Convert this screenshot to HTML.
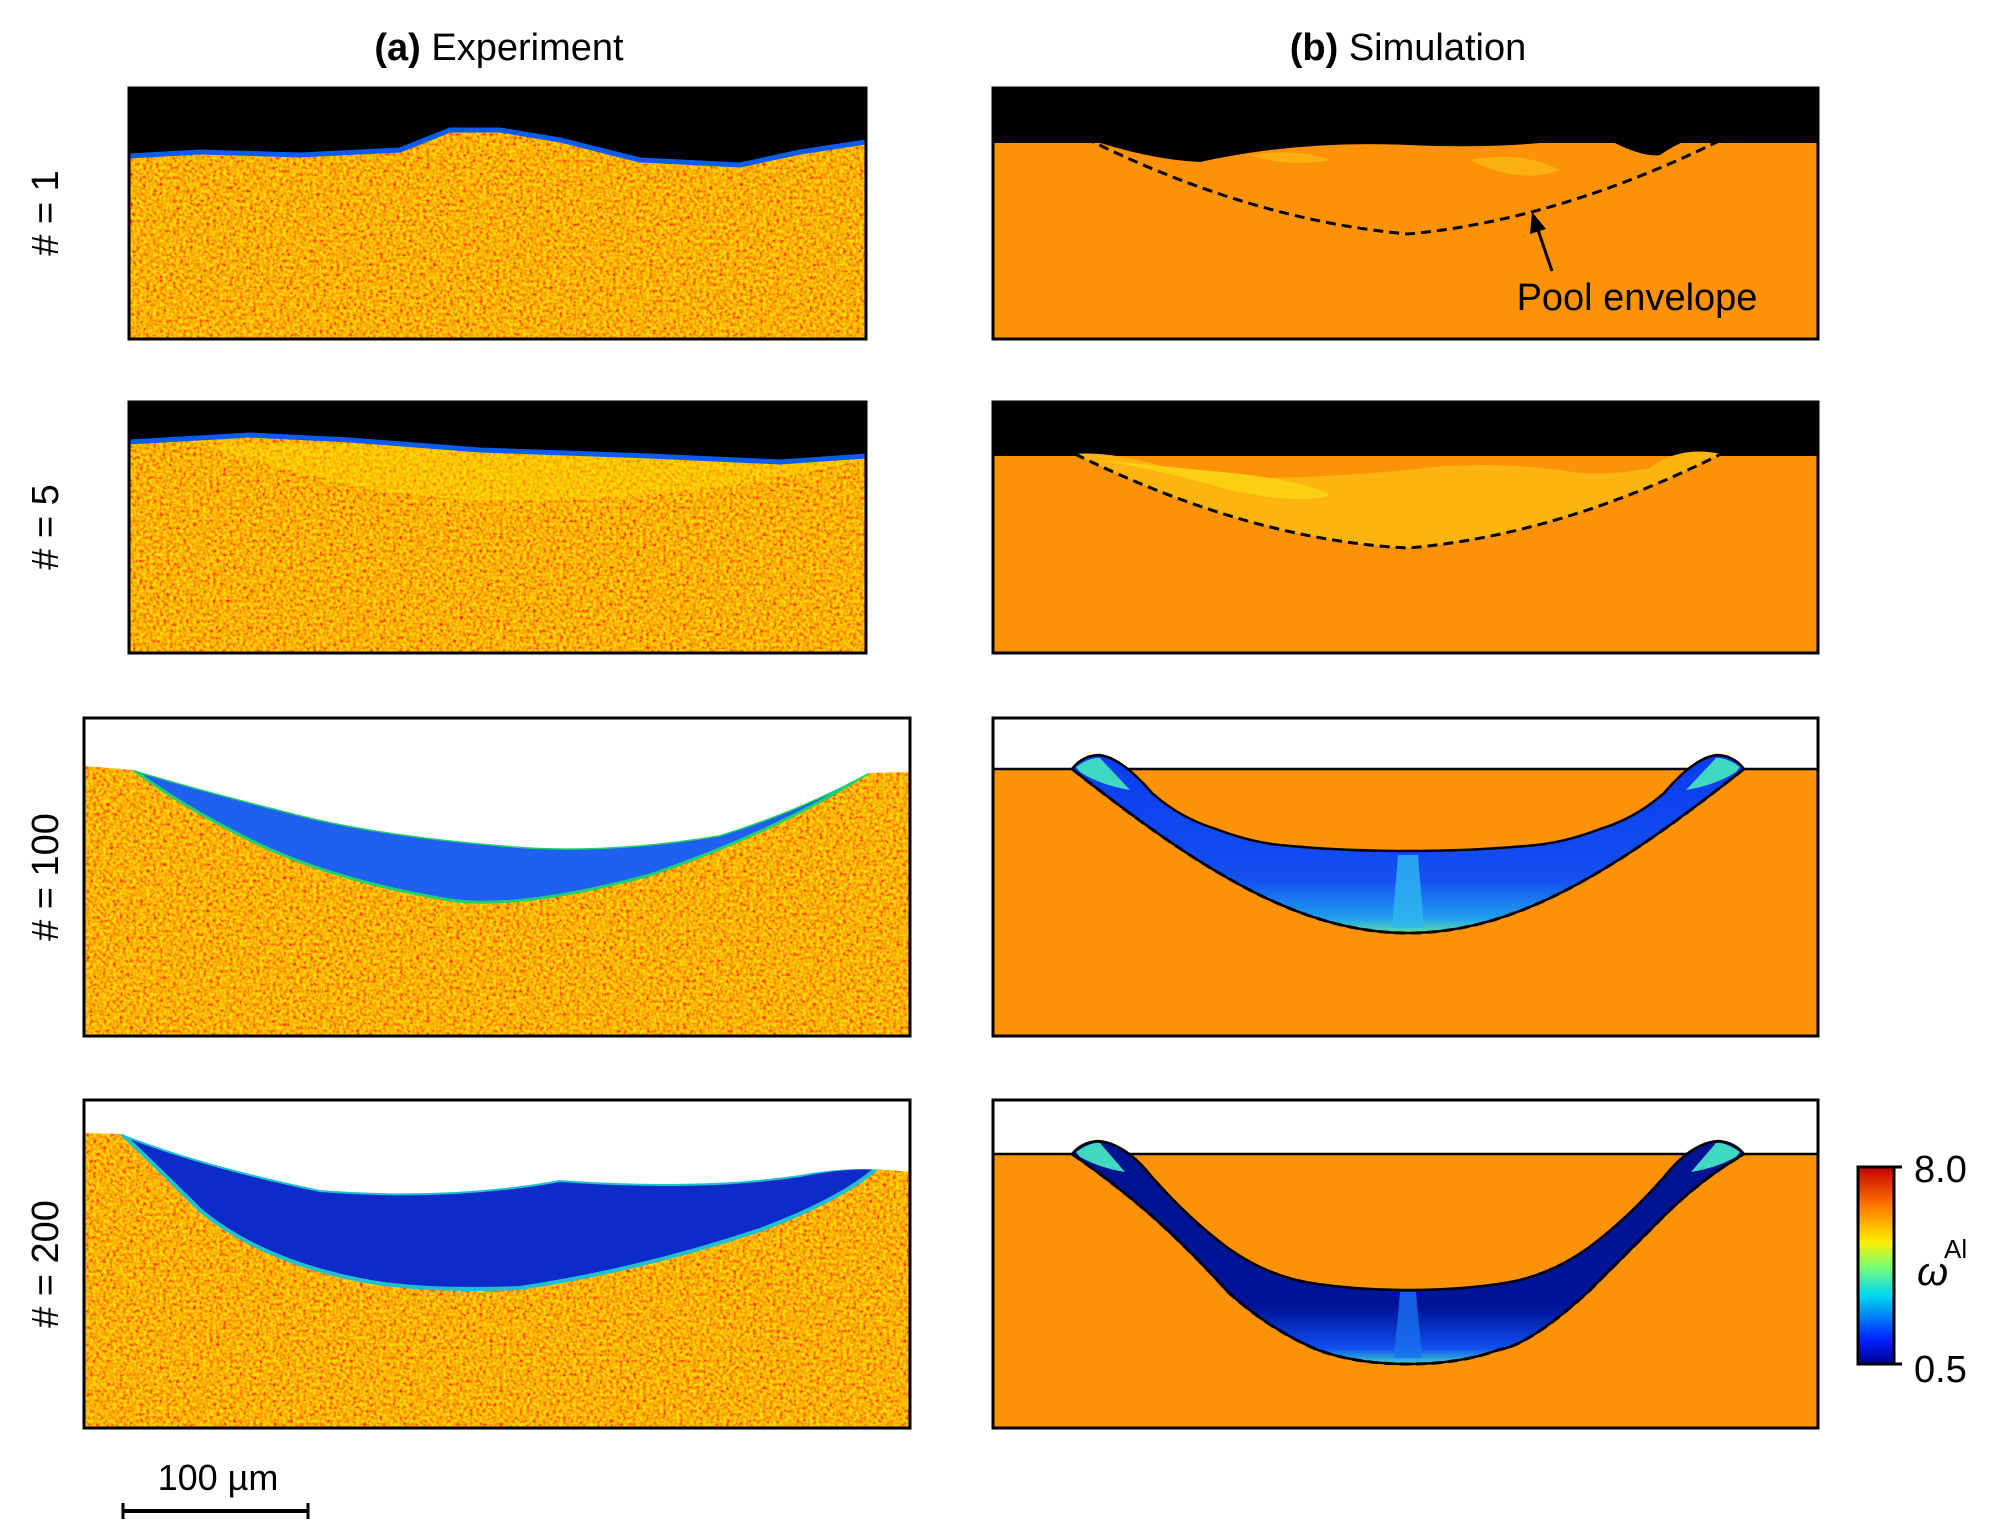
<!DOCTYPE html>
<html><head><meta charset="utf-8"><style>
html,body{margin:0;padding:0;background:#fff}
svg{display:block}
text{font-family:"Liberation Sans","DejaVu Sans",sans-serif;fill:#000}
</style></head><body>
<svg width="2000" height="1539" viewBox="0 0 2000 1539" xmlns="http://www.w3.org/2000/svg">
<defs>
<filter id="nz" x="0" y="0" width="100%" height="100%">
<feTurbulence type="fractalNoise" baseFrequency="0.3" numOctaves="2" seed="3" result="t"/>
<feColorMatrix in="t" type="matrix" values="0 0 0 0 1  -2 0 0 0 1.55  0 0 0 0 0  0 0 0 0 1"/>
</filter>
<linearGradient id="cb" x1="0" y1="1" x2="0" y2="0">
<stop offset="0" stop-color="#00008f"/><stop offset="0.12" stop-color="#0020ff"/><stop offset="0.35" stop-color="#00d8f0"/><stop offset="0.5" stop-color="#80ff70"/><stop offset="0.62" stop-color="#ffee00"/><stop offset="0.8" stop-color="#ff7a00"/><stop offset="1" stop-color="#c80000"/>
</linearGradient>
<linearGradient id="p3" x1="0" y1="0" x2="0" y2="1">
<stop offset="0" stop-color="#0a3cf0"/><stop offset="0.7" stop-color="#1450f0"/><stop offset="0.92" stop-color="#20a0f0"/><stop offset="1" stop-color="#60e0a0"/>
</linearGradient>
<linearGradient id="p4" x1="0" y1="0" x2="0" y2="1">
<stop offset="0" stop-color="#00138f"/><stop offset="0.75" stop-color="#00149a"/><stop offset="0.93" stop-color="#1050f0"/><stop offset="1" stop-color="#40d0d0"/>
</linearGradient>
<clipPath id="ca1"><rect x="129" y="88" width="737" height="251"/></clipPath>
<clipPath id="ca2"><rect x="129" y="402" width="737" height="251"/></clipPath>
<clipPath id="ca3"><rect x="84" y="718" width="826" height="318"/></clipPath>
<clipPath id="ca4"><rect x="84" y="1100" width="826" height="328"/></clipPath>
</defs>

<text x="499" y="60" font-size="38" text-anchor="middle"><tspan font-weight="bold">(a)</tspan> Experiment</text>
<text x="1408" y="60" font-size="38" text-anchor="middle"><tspan font-weight="bold">(b)</tspan> Simulation</text>

<text transform="translate(58,213) rotate(-90)" font-size="38" text-anchor="middle"># = 1</text>
<text transform="translate(58,527) rotate(-90)" font-size="38" text-anchor="middle"># = 5</text>
<text transform="translate(58,877) rotate(-90)" font-size="38" text-anchor="middle"># = 100</text>
<text transform="translate(58,1264) rotate(-90)" font-size="38" text-anchor="middle"># = 200</text>

<!-- a1 -->
<g clip-path="url(#ca1)">
<rect x="129" y="88" width="737" height="251" fill="#f48a10"/>
<rect x="129" y="88" width="737" height="251" filter="url(#nz)" opacity="0.7"/>
<path d="M129 88 H866 V142 L800 152 L740 165 L640 160 L560 140 L500 130 L450 130 L400 150 L300 155 L200 152 L129 156 Z" fill="#000"/>
<path d="M129 156 L200 152 L300 155 L400 150 L450 130 L500 130 L560 140 L640 160 L740 165 L800 152 L866 142" fill="none" stroke="#0a5cf0" stroke-width="5"/>
</g>
<rect x="129" y="88" width="737" height="251" fill="none" stroke="#000" stroke-width="3"/>

<!-- a2 -->
<g clip-path="url(#ca2)">
<rect x="129" y="402" width="737" height="251" fill="#f48a10"/>
<rect x="129" y="402" width="737" height="251" filter="url(#nz)" opacity="0.7"/>
<path d="M200 444 Q400 510 560 500 Q720 495 860 460 L866 458 V444 Z" fill="#ffe000" opacity="0.4"/>
<path d="M129 402 H866 V456 L780 462 L650 456 L480 450 L350 440 L250 435 L129 442 Z" fill="#000"/>
<path d="M129 442 L250 435 L350 440 L480 450 L650 456 L780 462 L866 456" fill="none" stroke="#0a5cf0" stroke-width="5"/>
</g>
<rect x="129" y="402" width="737" height="251" fill="none" stroke="#000" stroke-width="3"/>

<!-- a3 -->
<g clip-path="url(#ca3)">
<rect x="84" y="718" width="826" height="318" fill="#f48a10"/>
<rect x="84" y="718" width="826" height="318" filter="url(#nz)" opacity="0.7"/>
<path d="M134 770 Q200 790 300 815 Q380 835 500 845 Q600 855 720 835 Q800 810 868 773 Q780 830 650 875 Q520 910 450 900 Q330 880 250 840 Q180 805 134 770 Z" fill="#1f60f0" stroke="#20d070" stroke-width="3"/>
<path d="M84 718 H910 V772 L868 773 Q800 810 720 835 Q600 855 500 845 Q380 835 300 815 Q200 790 134 770 L84 766 Z" fill="#fff"/>
</g>
<rect x="84" y="718" width="826" height="318" fill="none" stroke="#000" stroke-width="3"/>

<!-- a4 -->
<g clip-path="url(#ca4)">
<rect x="84" y="1100" width="826" height="328" fill="#f48a10"/>
<rect x="84" y="1100" width="826" height="328" filter="url(#nz)" opacity="0.7"/>
<path d="M122 1134 Q200 1165 320 1190 Q450 1200 560 1180 Q700 1190 800 1175 Q850 1165 877 1168 Q840 1200 760 1230 Q640 1270 520 1288 Q420 1292 360 1280 Q260 1260 200 1210 Q160 1170 122 1134 Z" fill="#0c2bc8" stroke="#20c0d0" stroke-width="4"/>
<path d="M84 1100 H910 V1172 Q850 1165 800 1175 Q700 1190 560 1180 Q450 1200 320 1190 Q200 1165 122 1134 L84 1133 Z" fill="#fff"/>
</g>
<rect x="84" y="1100" width="826" height="328" fill="none" stroke="#000" stroke-width="3"/>

<!-- b1 -->
<rect x="993" y="88" width="825" height="251" fill="#fb9208"/>
<rect x="993" y="88" width="825" height="55" fill="#000"/>
<path d="M1085 138 Q1150 160 1200 162 Q1300 140 1408 145 Q1520 150 1600 135 Q1640 158 1660 155 Q1700 128 1725 138 Z" fill="#000"/>
<path d="M1250 155 Q1300 148 1330 160 Q1290 168 1250 155 Z M1470 160 Q1520 150 1560 170 Q1520 185 1470 160 Z" fill="#fbb010"/>
<path d="M1085 138 Q1250 220 1408 234 Q1560 220 1725 138" fill="none" stroke="#000" stroke-width="3" stroke-dasharray="10,6"/>
<rect x="993" y="88" width="825" height="251" fill="none" stroke="#000" stroke-width="3"/>
<text x="1637" y="310" font-size="38" text-anchor="middle">Pool envelope</text>
<line x1="1552" y1="271" x2="1538" y2="230" stroke="#000" stroke-width="3"/>
<polygon points="1532,212 1530,234 1546,229" fill="#000"/>

<!-- b2 -->
<rect x="993" y="402" width="825" height="251" fill="#fb9208"/>
<rect x="993" y="402" width="825" height="54" fill="#000"/>
<path d="M1075 454 Q1250 540 1408 548 Q1560 535 1721 454 Q1680 445 1650 468 Q1600 478 1560 470 Q1480 460 1408 470 Q1300 480 1200 478 Q1120 450 1075 454 Z" fill="#fbb410"/>
<path d="M1100 460 Q1160 470 1230 490 Q1300 505 1330 495 Q1300 478 1200 470 Z" fill="#fcd012"/>
<path d="M1075 454 Q1250 540 1408 548 Q1560 535 1721 454" fill="none" stroke="#000" stroke-width="3" stroke-dasharray="10,6"/>
<rect x="993" y="402" width="825" height="251" fill="none" stroke="#000" stroke-width="3"/>

<!-- b3 -->
<rect x="993" y="718" width="825" height="318" fill="#fb9208"/>
<rect x="993" y="718" width="825" height="51" fill="#fff"/>
<line x1="993" y1="769" x2="1818" y2="769" stroke="#000" stroke-width="2.5"/>
<path d="M1072 769 Q1082 756 1098 755 Q1120 756 1152 793 Q1180 818 1216 829 Q1250 842 1280 845 Q1340 851 1408 851 Q1476 851 1536 845 Q1566 842 1600 829 Q1636 818 1664 793 Q1696 756 1718 755 Q1734 756 1744 769 C1616 870 1516 933 1408 933 C1300 933 1200 870 1072 769 Z" fill="url(#p3)" stroke="#000" stroke-width="2.5"/>
<path d="M1398 855 L1418 855 L1424 928 L1392 928 Z" fill="#30b8f0" opacity="0.8"/>
<path d="M1076 767 Q1090 757 1100 758 L1130 790 Q1100 785 1080 772 Z M1740 767 Q1726 757 1716 758 L1686 790 Q1716 785 1736 772 Z" fill="#40d8c0"/>
<path d="M1072 769 C1200 870 1300 933 1408 933 C1516 933 1616 870 1744 769" fill="none" stroke="#000" stroke-width="3" stroke-dasharray="10,6"/>
<rect x="993" y="718" width="825" height="318" fill="none" stroke="#000" stroke-width="3"/>

<!-- b4 -->
<rect x="993" y="1100" width="825" height="328" fill="#fb9208"/>
<rect x="993" y="1100" width="825" height="54" fill="#fff"/>
<line x1="993" y1="1154" x2="1818" y2="1154" stroke="#000" stroke-width="2.5"/>
<path d="M1072 1154 Q1082 1142 1098 1141 Q1125 1143 1152 1177 Q1190 1220 1228 1248 Q1270 1278 1318 1284 Q1360 1290 1408 1290 Q1456 1290 1498 1284 Q1546 1278 1588 1248 Q1626 1220 1664 1177 Q1691 1143 1718 1141 Q1734 1142 1744 1154 Q1700 1180 1664 1216 Q1620 1260 1588 1292 Q1530 1345 1498 1350 Q1460 1364 1408 1364 Q1356 1364 1318 1350 Q1270 1330 1228 1292 Q1190 1250 1152 1216 Q1110 1180 1072 1154 Z" fill="url(#p4)" stroke="#000" stroke-width="2.5"/>
<path d="M1400 1292 L1416 1292 L1422 1358 L1394 1358 Z" fill="#1a70f0" opacity="0.8"/>
<path d="M1076 1152 Q1090 1142 1100 1143 L1125 1172 Q1100 1168 1080 1157 Z M1740 1152 Q1726 1142 1716 1143 L1691 1172 Q1716 1168 1736 1157 Z" fill="#40d8c0"/>
<path d="M1072 1154 Q1110 1180 1152 1216 Q1190 1250 1228 1292 Q1270 1330 1318 1350 Q1356 1364 1408 1364 Q1460 1364 1498 1350 Q1530 1345 1588 1292 Q1620 1260 1664 1216 Q1700 1180 1744 1154" fill="none" stroke="#000" stroke-width="3" stroke-dasharray="10,6"/>
<rect x="993" y="1100" width="825" height="328" fill="none" stroke="#000" stroke-width="3"/>

<!-- colorbar -->
<rect x="1858" y="1167" width="36" height="197" fill="url(#cb)" stroke="#000" stroke-width="3"/>
<line x1="1894" y1="1167" x2="1902" y2="1167" stroke="#000" stroke-width="3"/>
<line x1="1894" y1="1364" x2="1902" y2="1364" stroke="#000" stroke-width="3"/>
<text x="1914" y="1182" font-size="38">8.0</text>
<text x="1914" y="1382" font-size="38">0.5</text>
<text x="1917" y="1285" font-size="40" font-style="italic" font-family="Liberation Serif, serif">ω</text>
<text x="1944" y="1258" font-size="26" font-family="Liberation Serif, serif">Al</text>

<!-- scale bar -->
<text x="218" y="1490" font-size="36" text-anchor="middle">100 µm</text>
<line x1="123" y1="1511" x2="308" y2="1511" stroke="#000" stroke-width="4"/>
<line x1="123" y1="1503" x2="123" y2="1519" stroke="#000" stroke-width="3"/>
<line x1="308" y1="1503" x2="308" y2="1519" stroke="#000" stroke-width="3"/>
</svg>
</body></html>
